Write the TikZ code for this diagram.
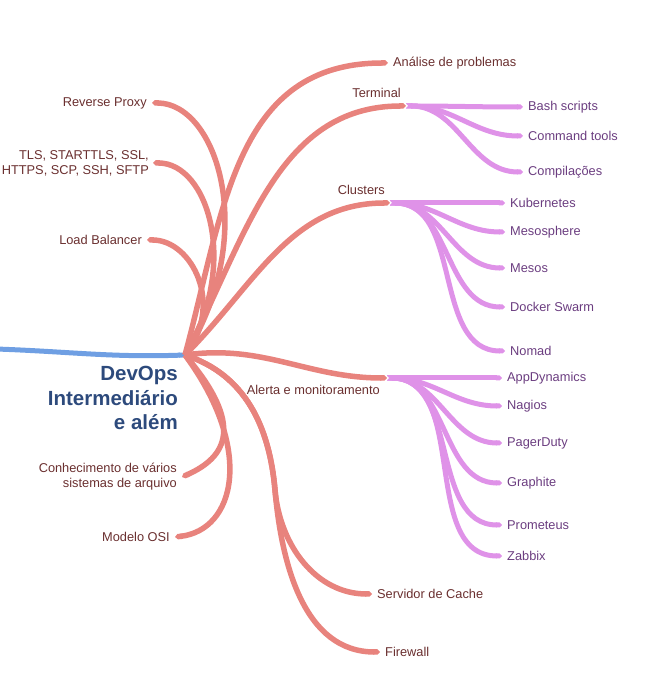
\documentclass[tikz,border=0pt]{standalone}
\usepackage{fontspec}
\setmainfont{Liberation Sans}
\usetikzlibrary{arrows.meta}
\definecolor{branchred}{HTML}{E8837D}
\definecolor{twigpurple}{HTML}{DF92E8}
\definecolor{rootblue}{HTML}{6F9FE3}
\definecolor{redtext}{HTML}{6A2F2F}
\definecolor{purpletext}{HTML}{6B3D80}
\definecolor{topicblue}{HTML}{2D4A7C}
\tikzset{
  leaflabel/.style={font=\fontsize{12.8}{15}\selectfont, text=redtext, inner xsep=5pt, inner ysep=1pt},
  subleaflabel/.style={leaflabel, text=purpletext},
  topiclabel/.style={font=\fontsize{20.5}{24.5}\selectfont\bfseries, text=topicblue, inner sep=0pt, align=right},
  rootline/.style={draw=rootblue, line width=5pt, -{Triangle Cap}},
  branchline/.style={draw=branchred, line width=5.5pt, -{Triangle Cap}},
  twigline/.style={draw=twigpurple, line width=5pt, {Triangle Cap[reversed]}-{Triangle Cap}},
}
\begin{document}
\begin{tikzpicture}[x=1pt, y=1pt]
\useasboundingbox (0,0) rectangle (656,690);
\coordinate (prev) at (-4,341);
\coordinate (hub) at (185,335);
\coordinate (terminal) at (406,584);
\coordinate (clusters) at (390,487);
\coordinate (alerta) at (387,312);
\coordinate (lowtrunk) at (275,200);

\node[topiclabel, anchor=east] (topic) at (178,292) {DevOps\\Intermediário\\e além};

\node[leaflabel, anchor=east] (rp) at (152,587) {Reverse Proxy};
\node[leaflabel, anchor=east, align=right, inner xsep=4pt] (tls) at (153,527) {TLS, STARTTLS, SSL,\\HTTPS, SCP, SSH, SFTP};
\node[leaflabel, anchor=east] (lb) at (147,450) {Load Balancer};
\node[leaflabel, anchor=east, align=right] (fs) at (182,213) {Conhecimento de vários\\sistemas de arquivo};
\node[leaflabel, anchor=east] (osi) at (175,153) {Modelo OSI};

\node[leaflabel, anchor=west] (ap) at (388,627) {Análise de problemas};
\node[leaflabel, anchor=east] (terminallabel) at (406,597) {Terminal};
\node[leaflabel, anchor=east] (clusterslabel) at (390,500) {Clusters};
\node[leaflabel, anchor=west] (sc) at (372,96) {Servidor de Cache};
\node[leaflabel, anchor=west] (fw) at (380,38) {Firewall};

\node[subleaflabel, anchor=west] (bash) at (523,583) {Bash scripts};
\node[subleaflabel, anchor=west] (cmd) at (523,554) {Command tools};
\node[subleaflabel, anchor=west] (comp) at (523,518) {Compilações};

\node[subleaflabel, anchor=west] (k8s) at (505,487) {Kubernetes};
\node[subleaflabel, anchor=west] (mesosphere) at (505,458) {Mesosphere};
\node[subleaflabel, anchor=west] (mesos) at (505,422) {Mesos};
\node[subleaflabel, anchor=west] (swarm) at (505,383) {Docker Swarm};
\node[subleaflabel, anchor=west] (nomad) at (505,339) {Nomad};

\node[subleaflabel, anchor=west] (appd) at (502,312) {AppDynamics};
\node[subleaflabel, anchor=west] (nagios) at (502,284) {Nagios};
\node[subleaflabel, anchor=west] (pager) at (502,247) {PagerDuty};
\node[subleaflabel, anchor=west] (graphite) at (502,207) {Graphite};
\node[subleaflabel, anchor=west] (prom) at (502,165) {Prometeus};
\node[subleaflabel, anchor=west] (zabbix) at (502,134) {Zabbix};

\draw[rootline] (prev) to[out=-2, in=182] (hub);

\draw[branchline] (hub) .. controls +(75,120) and +(65,0) .. (rp.east);
\draw[branchline] (hub) .. controls +(55,90) and +(55,0) .. (tls.east);
\draw[branchline] (hub) .. controls +(40,50) and +(45,0) .. (lb.east);
\draw[branchline] (hub) .. controls +(60,-70) and +(45,20) .. (fs.east);
\draw[branchline] (hub) .. controls +(70,-95) and +(60,7) .. (osi.east);
\draw[branchline] (hub) to[out=75, in=180, looseness=1.1] (ap.west);
\draw[branchline] (hub) to[out=62, in=180] (terminal);
\draw[branchline] (hub) to[out=45, in=180] (clusters);
\draw[branchline] (hub) to[out=8, in=180] (alerta);
\draw[branchline] (hub) to[out=-18, in=95] (lowtrunk) to[out=-85, in=180] (sc.west);
\draw[branchline] (hub) to[out=-18, in=95] (lowtrunk) to[out=-85, in=180] (fw.west);

\foreach \leaf in {bash, cmd, comp}
  \draw[twigline] (terminal) to[out=0, in=180] (\leaf.west);
\foreach \leaf in {k8s, mesosphere, mesos, swarm, nomad}
  \draw[twigline] (clusters) to[out=0, in=180] (\leaf.west);
\foreach \leaf in {appd, nagios, pager, graphite, prom, zabbix}
  \draw[twigline] (alerta) to[out=0, in=180] (\leaf.west);

\node[leaflabel, anchor=east] (alertalabel) at (385,300) {Alerta e monitoramento};
\end{tikzpicture}
\end{document}
